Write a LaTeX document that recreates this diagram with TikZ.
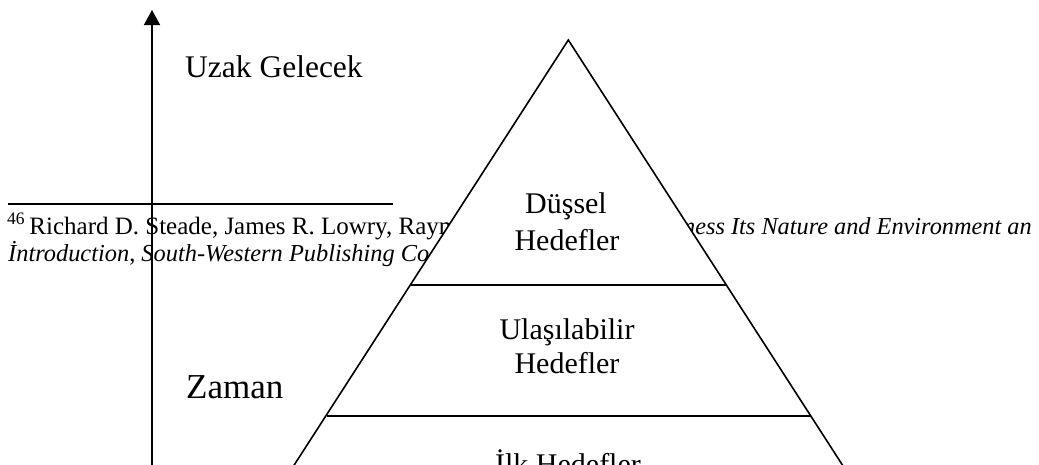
\documentclass[tikz,border=0pt]{standalone}
\usepackage{fontspec}
\setmainfont{Liberation Serif}
\usetikzlibrary{arrows.meta}
\begin{document}
\begin{tikzpicture}[x=1pt,y=-1pt,
  lbl/.style={inner sep=0pt,font=\fontsize{30}{36}\selectfont},
  fn/.style={inner sep=0pt,font=\fontsize{25}{27}\selectfont},
  ln/.style={line width=1.6pt},
]
\useasboundingbox (0,0) rectangle (1039,464);
\clip (0,0) rectangle (1039,464);
% footnote
\draw[line width=1.3pt] (8,204) coordinate (r1) -- (393,204) coordinate (r2);
\node[fn,anchor=base west] (f1) at (7,234) {\textsuperscript{46}\hspace{-2pt} Richard D. Steade, James R. Lowry, Raym};
\node[fn,anchor=base west,font=\fontsize{24.3}{27}\selectfont] (f2) at (683,234) {\textit{ness Its Nature and Environment an}};
\node[fn,anchor=base west,font=\fontsize{24.4}{27}\selectfont] (f3) at (8,261) {\textit{İntroduction}, \textit{South-Western Publishing Co}};
% pyramid
\coordinate (apex) at (568.3,40);
\coordinate (bl) at (271.6,500);
\coordinate (br) at (865,500);
\draw[ln,fill=white,line join=miter] (bl) -- (apex) -- (br);
\draw[ln] (410,285) coordinate (a1) -- (727,285) coordinate (a2);
\draw[ln] (327,416) coordinate (b1) -- (811,416) coordinate (b2);
\node[lbl,anchor=base] (d1) at (566,213) {Düşsel};
\node[lbl,anchor=base] (d2) at (567,250) {Hedefler};
\node[lbl,anchor=base] (u1) at (567,339) {Ulaşılabilir};
\node[lbl,anchor=base] (u2) at (567,373) {Hedefler};
\node[lbl,anchor=base] (i1) at (568,474) {İlk Hedefler};
% axis
\coordinate (ax0) at (152,470);
\coordinate (ax1) at (152,10);
\draw[ln,-{Triangle[width=16pt,length=15pt]}] (ax0) -- (ax1);
\node[lbl,anchor=base west,font=\fontsize{31.5}{36}\selectfont] (uz) at (185,77) {Uzak Gelecek};
\node[lbl,anchor=base west,font=\fontsize{35}{36}\selectfont] (za) at (186,398) {Zaman};
\end{tikzpicture}
\end{document}
